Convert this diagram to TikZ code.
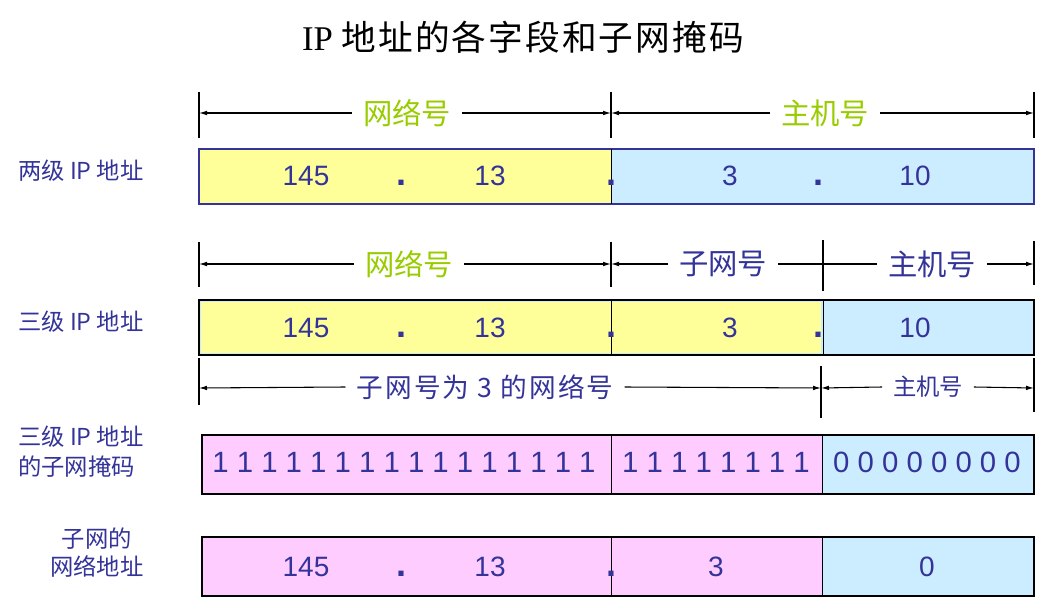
\documentclass[tikz,border=0pt]{standalone}
\usepackage{fontspec}
\setmainfont{Liberation Sans}
\newfontfamily\cjk{Noto Sans CJK SC}
\newfontfamily\cjkwide[LetterSpace=8]{Noto Sans CJK SC}
\newfontfamily\cjktitle[LetterSpace=6]{Noto Sans CJK SC}
\newfontfamily\titleserif{Liberation Serif}
\usetikzlibrary{arrows.meta}
\definecolor{ipblue}{HTML}{333399}
\definecolor{ipgreen}{HTML}{99CC00}
\definecolor{netyellow}{HTML}{FFFF99}
\definecolor{hostblue}{HTML}{CCECFF}
\definecolor{maskpink}{HTML}{FFCCFF}

\begin{document}
\begin{tikzpicture}[x=0.75pt,y=-0.75pt,
    num/.style={font=\fontsize{21}{25}\selectfont,text=ipblue,anchor=base,inner sep=0pt},
    sep/.style={num,font=\bfseries\fontsize{27}{30}\selectfont},
    bits/.style={num,font=\fontsize{22}{26}\selectfont},
    side/.style={font=\cjk\fontsize{17.5}{22.5}\selectfont,text=ipblue,align=left,inner sep=0pt},
    field/.style={font=\cjk\fontsize{22}{26}\selectfont,inner xsep=8pt,inner ysep=0pt},
    subfield/.style={font=\cjk\fontsize{17.5}{22}\selectfont,text=ipblue,inner xsep=8pt,inner ysep=0pt},
    tick/.style={line width=0.8pt},
    dim/.style={-{Latex[length=6pt,width=3.5pt]},line width=0.8pt},
    cell/.style={line width=0.9pt},
    divider/.style={line width=0.6pt}]
  \useasboundingbox (0,0) rectangle (1053,609);

  % title
  \node (title) at (523,37) {\fontsize{26}{30}\selectfont\titleserif IP \cjktitle 地址的各字段和子网掩码};

  % left labels
  \node[side,anchor=west] (lab1) at (18,171) {两级 IP 地址};
  \node[side,anchor=west] (lab2) at (18,322) {三级 IP 地址};
  \node[side,anchor=west] (lab3) at (18,452) {三级 IP 地址\\的子网掩码};
  \node[side,align=center,font=\cjk\fontsize{17.5}{21}\selectfont] (lab4) at (97,553) {子网的\\网络地址};

  % row 1: two-level address
  \foreach \x in {199,611,1034} \draw[tick] (\x,92) -- (\x,138);
  \coordinate (h1l) at (199,113);
  \coordinate (h1m) at (611,113);
  \coordinate (h1r) at (1034,113);
  \node[field,text=ipgreen] (net1) at (407,113) {网络号};
  \node[field,text=ipgreen] (host1) at (825,113) {主机号};
  \draw[dim] (net1.west) -- (h1l);
  \draw[dim] (net1.east) -- (h1m);
  \draw[dim] (host1.west) -- (h1m);
  \draw[dim] (host1.east) -- (h1r);

  \fill[netyellow] (199,149) rectangle (611,204);
  \fill[hostblue] (611,149) rectangle (1034,204);
  \draw[cell,ipblue] (199,149) rectangle (1034,204);
  \draw[divider] (611,149) -- (611,204);
  \foreach \x/\t [count=\i] in {306/145,490/13,730/3,915/10}
    \node[num] (r1n\i) at (\x,186) {\t};
  \foreach \x [count=\i] in {401,611,818}
    \node[sep] (r1d\i) at (\x,186) {.};

  % row 2: three-level address
  \draw[tick] (199,242) -- (199,287);
  \draw[tick] (611,242) -- (611,287);
  \draw[tick] (823,240) -- (823,291);
  \draw[tick] (1034,241) -- (1034,285);
  \coordinate (h2l) at (199,264);
  \coordinate (h2m) at (611,264);
  \coordinate (h2r) at (1034,264);
  \node[field,text=ipgreen] (net2) at (409,264) {网络号};
  \node[field,text=ipblue] (sub2) at (723,264) {子网号};
  \node[field,text=ipblue] (host2) at (932,264) {主机号};
  \draw[dim] (net2.west) -- (h2l);
  \draw[dim] (net2.east) -- (h2m);
  \draw[dim] (sub2.west) -- (h2m);
  \draw[line width=0.8pt] (sub2.east) -- (host2.west);
  \draw[dim] (host2.east) -- (h2r);

  \fill[hostblue] (199,300) rectangle (1034,355);
  \fill[netyellow] (201,302) rectangle (821,353);
  \draw[cell] (199,300) rectangle (1034,355);
  \draw[divider] (611,300) -- (611,355);
  \draw[divider] (823,300) -- (823,355);
  \foreach \x/\t [count=\i] in {306/145,490/13,730/3,915/10}
    \node[num] (r2n\i) at (\x,338) {\t};
  \foreach \x [count=\i] in {401,611,818}
    \node[sep] (r2d\i) at (\x,338) {.};

  % row 3: subnet mask
  \draw[tick] (199,358) -- (199,405);
  \draw[tick] (821,366) -- (821,418);
  \draw[tick] (1034,358) -- (1034,412);
  \coordinate (h3l) at (199,388);
  \coordinate (h3m) at (821,388);
  \coordinate (h3r) at (1034,388);
  \node[subfield,font=\cjkwide\fontsize{20}{24}\selectfont] (net3) at (485,387) {子网号为 3 的网络号};
  \node[subfield] (host3) at (928,387) {主机号};
  \draw[dim] (net3.west) -- (h3l);
  \draw[dim] (net3.east) -- (h3m);
  \draw[dim] (host3.west) -- (h3m);
  \draw[dim] (host3.east) -- (h3r);

  \fill[maskpink] (202,435) rectangle (822,494);
  \fill[hostblue] (822,435) rectangle (1034,494);
  \draw[cell] (202,435) rectangle (1034,494);
  \draw[divider] (611,435) -- (611,494);
  \draw[divider] (822,435) -- (822,494);
  \node[bits] (mask1) at (404,472) {1 1 1 1 1 1 1 1 1 1 1 1 1 1 1 1};
  \node[bits] (mask2) at (716,472) {1 1 1 1 1 1 1 1};
  \node[bits] (mask3) at (927,472) {0 0 0 0 0 0 0 0};

  % row 4: subnet address
  \fill[maskpink] (202,537) rectangle (822,596);
  \fill[hostblue] (822,537) rectangle (1034,596);
  \draw[cell] (202,537) rectangle (1034,596);
  \draw[divider] (611,537) -- (611,596);
  \draw[divider] (822,537) -- (822,596);
  \foreach \x/\t [count=\i] in {306/145,490/13,716/3,927/0}
    \node[num] (r4n\i) at (\x,576) {\t};
  \foreach \x [count=\i] in {401,611}
    \node[sep] (r4d\i) at (\x,576) {.};
\end{tikzpicture}
\end{document}
